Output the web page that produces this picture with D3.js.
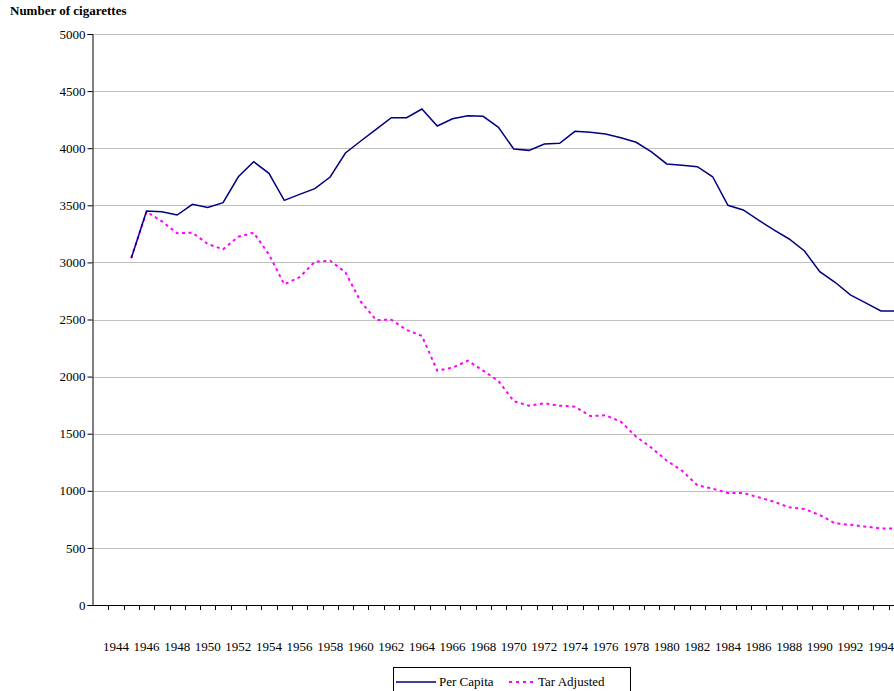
<!DOCTYPE html>
<html><head><meta charset="utf-8">
<script src="https://cdn.jsdelivr.net/npm/d3@7"></script>
<style>body{margin:0;background:#fff}svg{display:block}text{font-family:"Liberation Serif","Times New Roman",serif;fill:#000}</style>
</head><body>
<script>
const years = d3.range(1945, 1996);
const perCapita = [3036,3450,3444,3415,3509,3480,3523,3750,3882,3780,3543,3596,3646,3748,3958,
 4063,4165,4267,4267,4343,4194,4258,4285,4279,4183,3993,3981,4037,4043,4148,4139,4124,4092,4052,
 3967,3862,3850,3838,3750,3500,3459,3371,3284,3205,3100,2919,2826,2715,2645,2575,2575];
const tarAdjusted = [3040,3444,3360,3255,3260,3161,3115,3225,3260,3070,2808,2870,3006,3015,2913,
 2656,2496,2498,2408,2356,2052,2078,2139,2052,1962,1785,1745,1766,1745,1737,1655,1661,1605,1474,
 1377,1264,1176,1048,1019,981,981,943,905,855,841,788,715,703,686,671,670];
const yTicks = [0,500,1000,1500,2000,2500,3000,3500,4000,4500,5000];
const xLabelYears = d3.range(1944, 1995, 2);
const seriesNames = ["Per Capita","Tar Adjusted"];

(function(){
const W=894,H=691;
const svg=d3.select("body").append("svg").attr("width",W).attr("height",H);
const pLeft=93, pTop=34, pBottom=605, catW=15.3;
const x=d3.scaleLinear().domain([1942.5,1995.5]).range([pLeft,pLeft+53*catW]);
const y=d3.scaleLinear().domain([0,5000]).range([pBottom,pTop]);

svg.append("defs").append("clipPath").attr("id","clip").append("rect")
  .attr("x",pLeft).attr("y",0).attr("width",W-pLeft).attr("height",pBottom+1);

// gridlines
svg.append("g").selectAll("line").data(yTicks.filter(d=>d>0)).join("line")
  .attr("x1",pLeft).attr("x2",W).attr("y1",d=>Math.round(y(d))+0.5).attr("y2",d=>Math.round(y(d))+0.5)
  .attr("stroke","#c0c0c0").attr("stroke-width",1);

// y axis
const yAxis=d3.axisLeft(y).tickValues(yTicks).tickSize(5).tickPadding(2).tickFormat(d3.format("d"));
const gy=svg.append("g").attr("transform",`translate(${pLeft-0.5},0)`).call(yAxis);
gy.select(".domain").attr("stroke","#000");
gy.selectAll(".tick line").attr("stroke","#000");
gy.selectAll(".tick text").style("font-size","13px").attr("font-family","Liberation Serif");

// x axis line & ticks between categories
const boundaries=d3.range(1943.5,1996,1);
svg.append("line").attr("x1",pLeft-0.5).attr("x2",W).attr("y1",pBottom+0.5).attr("y2",pBottom+0.5).attr("stroke","#000");
svg.append("g").selectAll("line").data(boundaries).join("line")
  .attr("x1",d=>Math.round(x(d))+0.5).attr("x2",d=>Math.round(x(d))+0.5)
  .attr("y1",pBottom).attr("y2",pBottom+5).attr("stroke","#000");
svg.append("g").selectAll("text").data(xLabelYears).join("text")
  .attr("x",d=>x(d)).attr("y",651).attr("text-anchor","middle").style("font-size","13px").text(d=>d);

// title
svg.append("text").attr("x",10).attr("y",15).style("font-size","13px").style("font-weight","bold").text("Number of cigarettes");

// lines
const line=vals=>d3.line().x((d,i)=>x(years[i])).y(d=>y(d))(vals);
const gl=svg.append("g").attr("clip-path","url(#clip)");
gl.append("path").attr("d",line(tarAdjusted)).attr("fill","none").attr("stroke","#ff00ff").attr("stroke-width",2).attr("stroke-dasharray","3,3.5");
gl.append("path").attr("d",line(perCapita)).attr("fill","none").attr("stroke","#000080").attr("stroke-width",1.5);

// legend
const lg=svg.append("g");
lg.append("rect").attr("x",393.5).attr("y",667.5).attr("width",237).attr("height",30).attr("fill","#fff").attr("stroke","#000");
lg.append("line").attr("x1",396).attr("x2",436).attr("y1",682).attr("y2",682).attr("stroke","#000080").attr("stroke-width",1.5);
lg.append("text").attr("x",439).attr("y",686).style("font-size","13px").text(seriesNames[0]);
lg.append("line").attr("x1",509).attr("x2",536).attr("y1",682).attr("y2",682).attr("stroke","#ff00ff").attr("stroke-width",2).attr("stroke-dasharray","3,4");
lg.append("text").attr("x",538).attr("y",686).style("font-size","13px").text(seriesNames[1]);
})();
</script>
</body></html>
